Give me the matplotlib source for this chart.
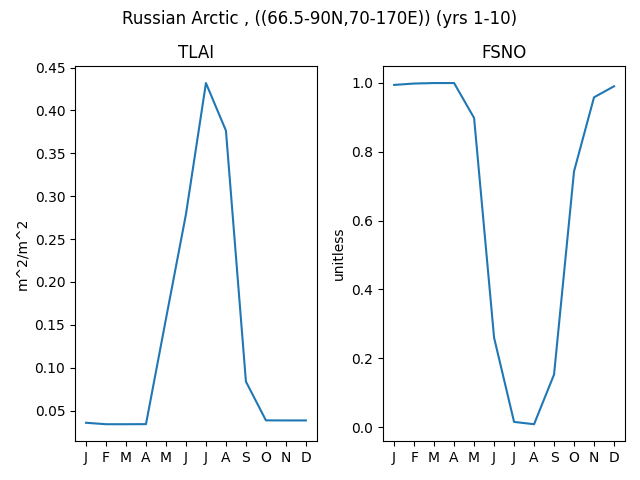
import matplotlib
matplotlib.use("Agg")
import matplotlib.pyplot as plt

months = ["J", "F", "M", "A", "M", "J", "J", "A", "S", "O", "N", "D"]
tlai = [0.0357, 0.0340, 0.0340, 0.0341, 0.157, 0.279, 0.432, 0.3765, 0.0838, 0.0385, 0.0384, 0.0384]
fsno = [0.994, 0.998, 0.9994, 0.9994, 0.898, 0.260, 0.0154, 0.0087, 0.153, 0.743, 0.958, 0.990]

fig, axes = plt.subplots(1, 2, figsize=(6.4, 4.8), dpi=100)
x = list(range(12))

axes[0].plot(x, tlai)
axes[0].set_title("TLAI")
axes[0].set_ylabel("m^2/m^2")
axes[0].set_xticks(x)
axes[0].set_xticklabels(months)

axes[1].plot(x, fsno)
axes[1].set_title("FSNO")
axes[1].set_ylabel("unitless")
axes[1].set_xticks(x)
axes[1].set_xticklabels(months)

fig.suptitle("Russian Arctic , ((66.5-90N,70-170E)) (yrs 1-10)")
fig.tight_layout()
fig.subplots_adjust(top=0.8625)
fig.savefig("out.png")
